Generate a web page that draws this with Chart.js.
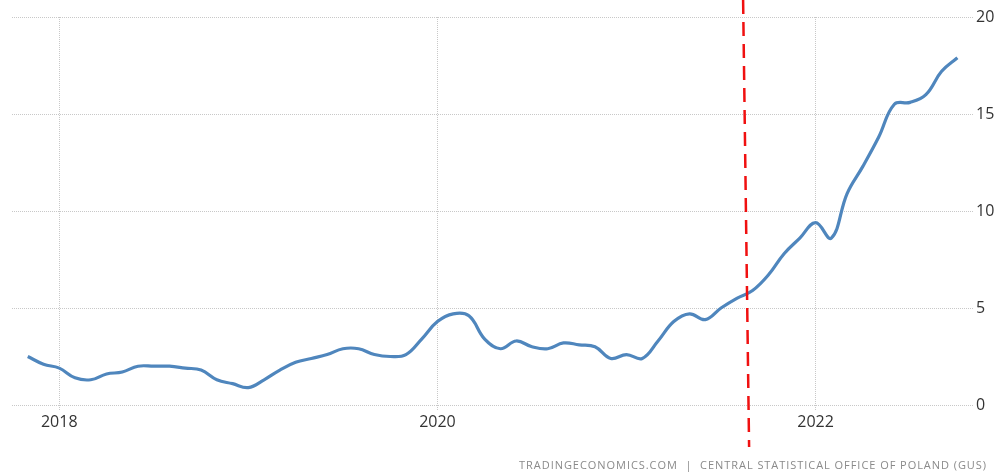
<!DOCTYPE html>
<html>
<head>
<meta charset="utf-8">
<script src="https://cdn.jsdelivr.net/npm/chart.js@4.4.1/dist/chart.umd.min.js"></script>
<style>
  html, body { margin: 0; padding: 0; background: #fff; }
  #wrap { position: relative; width: 996px; height: 473px; }
  #source {
    position: absolute; right: 9px; top: 457px;
    font-family: "Open Sans", sans-serif; font-size: 11px; color: #8a8a8a;
    letter-spacing: 0.95px; white-space: nowrap;
  }
</style>
</head>
<body>
<div id="wrap">
  <canvas id="chart" width="996" height="473"></canvas>
  <div id="source">TRADINGECONOMICS.COM&nbsp; | &nbsp;CENTRAL STATISTICAL OFFICE OF POLAND (GUS)</div>
</div>
<script>
// monthly inflation, Nov 2017 .. Oct 2022 (x = months since Jan 2018)
const firstMonth = -2
const inflation = [
  2.5, 2.1,
  1.9, 1.4, 1.3, 1.6, 1.7, 2.0, 2.0, 2.0, 1.9, 1.8, 1.3, 1.1,
  0.9, 1.3, 1.8, 2.2, 2.4, 2.6, 2.9, 2.9, 2.6, 2.5, 2.6, 3.4,
  4.3, 4.7, 4.6, 3.4, 2.9, 3.3, 3.0, 2.9, 3.2, 3.1, 3.0, 2.4,
  2.6, 2.4, 3.3, 4.3, 4.7, 4.4, 5.0, 5.5, 5.9, 6.7, 7.8, 8.6,
  9.4, 8.6, 10.9, 12.3, 13.8, 15.5, 15.6, 16.0, 17.2, 17.9
]
const xTickValues = [0, 24, 48]
const xTickLabels = ['2018', '2020', '2022']
const yTicks = [0, 5, 10, 15, 20]
// red dashed marker (month position at top and bottom of the drawn line)
const markerMonth = [43.4, 43.78]

const points = inflation.map((v, i) => ({ x: i + firstMonth, y: v }))

const markerLine = {
  id: 'markerLine',
  afterDatasetsDraw(chart) {
    const ctx = chart.ctx
    const xs = chart.scales.x
    ctx.save()
    ctx.strokeStyle = '#f01010'
    ctx.lineWidth = 2.5
    ctx.setLineDash([14, 8])
    ctx.beginPath()
    ctx.moveTo(xs.getPixelForValue(markerMonth[0]), 0)
    ctx.lineTo(xs.getPixelForValue(markerMonth[1]), 447)
    ctx.stroke()
    ctx.restore()
  }
}

const ctx = document.getElementById('chart').getContext('2d')
const myChart = new Chart(ctx, {
  type: 'line',
  data: {
    datasets: [{
      data: points,
      borderColor: '#4f86bd',
      borderWidth: 3.2,
      tension: 0.4,
      fill: false
    }]
  },
  options: {
    responsive: false,
    animation: false,
    parsing: false,
    layout: { padding: { left: 12, top: 17, right: 0, bottom: 0 } },
    plugins: {
      legend: { display: false },
      tooltip: { enabled: false }
    },
    elements: { point: { radius: 0 } },
    scales: {
      x: {
        type: 'linear',
        min: -3,
        max: 57.8,
        afterBuildTicks: (axis) => { axis.ticks = xTickValues.map(v => ({ value: v })) },
        afterFit: (axis) => { axis.height = 68 },
        border: { display: false, dash: [1, 1] },
        grid: { color: '#c8c8c8', tickLength: 5, tickBorderDash: [1, 1] },
        ticks: {
          autoSkip: false,
          maxRotation: 0,
          padding: 3,
          color: '#333',
          font: { family: 'Open Sans', size: 16 },
          callback: (v) => xTickLabels[xTickValues.indexOf(v)]
        }
      },
      y: {
        position: 'right',
        min: 0,
        max: 20,
        afterBuildTicks: (axis) => { axis.ticks = yTicks.map(v => ({ value: v })) },
        afterFit: (axis) => { axis.width = 26 },
        border: { display: false, dash: [1, 1] },
        grid: { color: '#c8c8c8', tickLength: 4, tickBorderDash: [1, 1] },
        ticks: {
          padding: 2,
          color: '#333',
          font: { family: 'Open Sans', size: 16 }
        }
      }
    }
  },
  plugins: [markerLine]
})
</script>
</body>
</html>
